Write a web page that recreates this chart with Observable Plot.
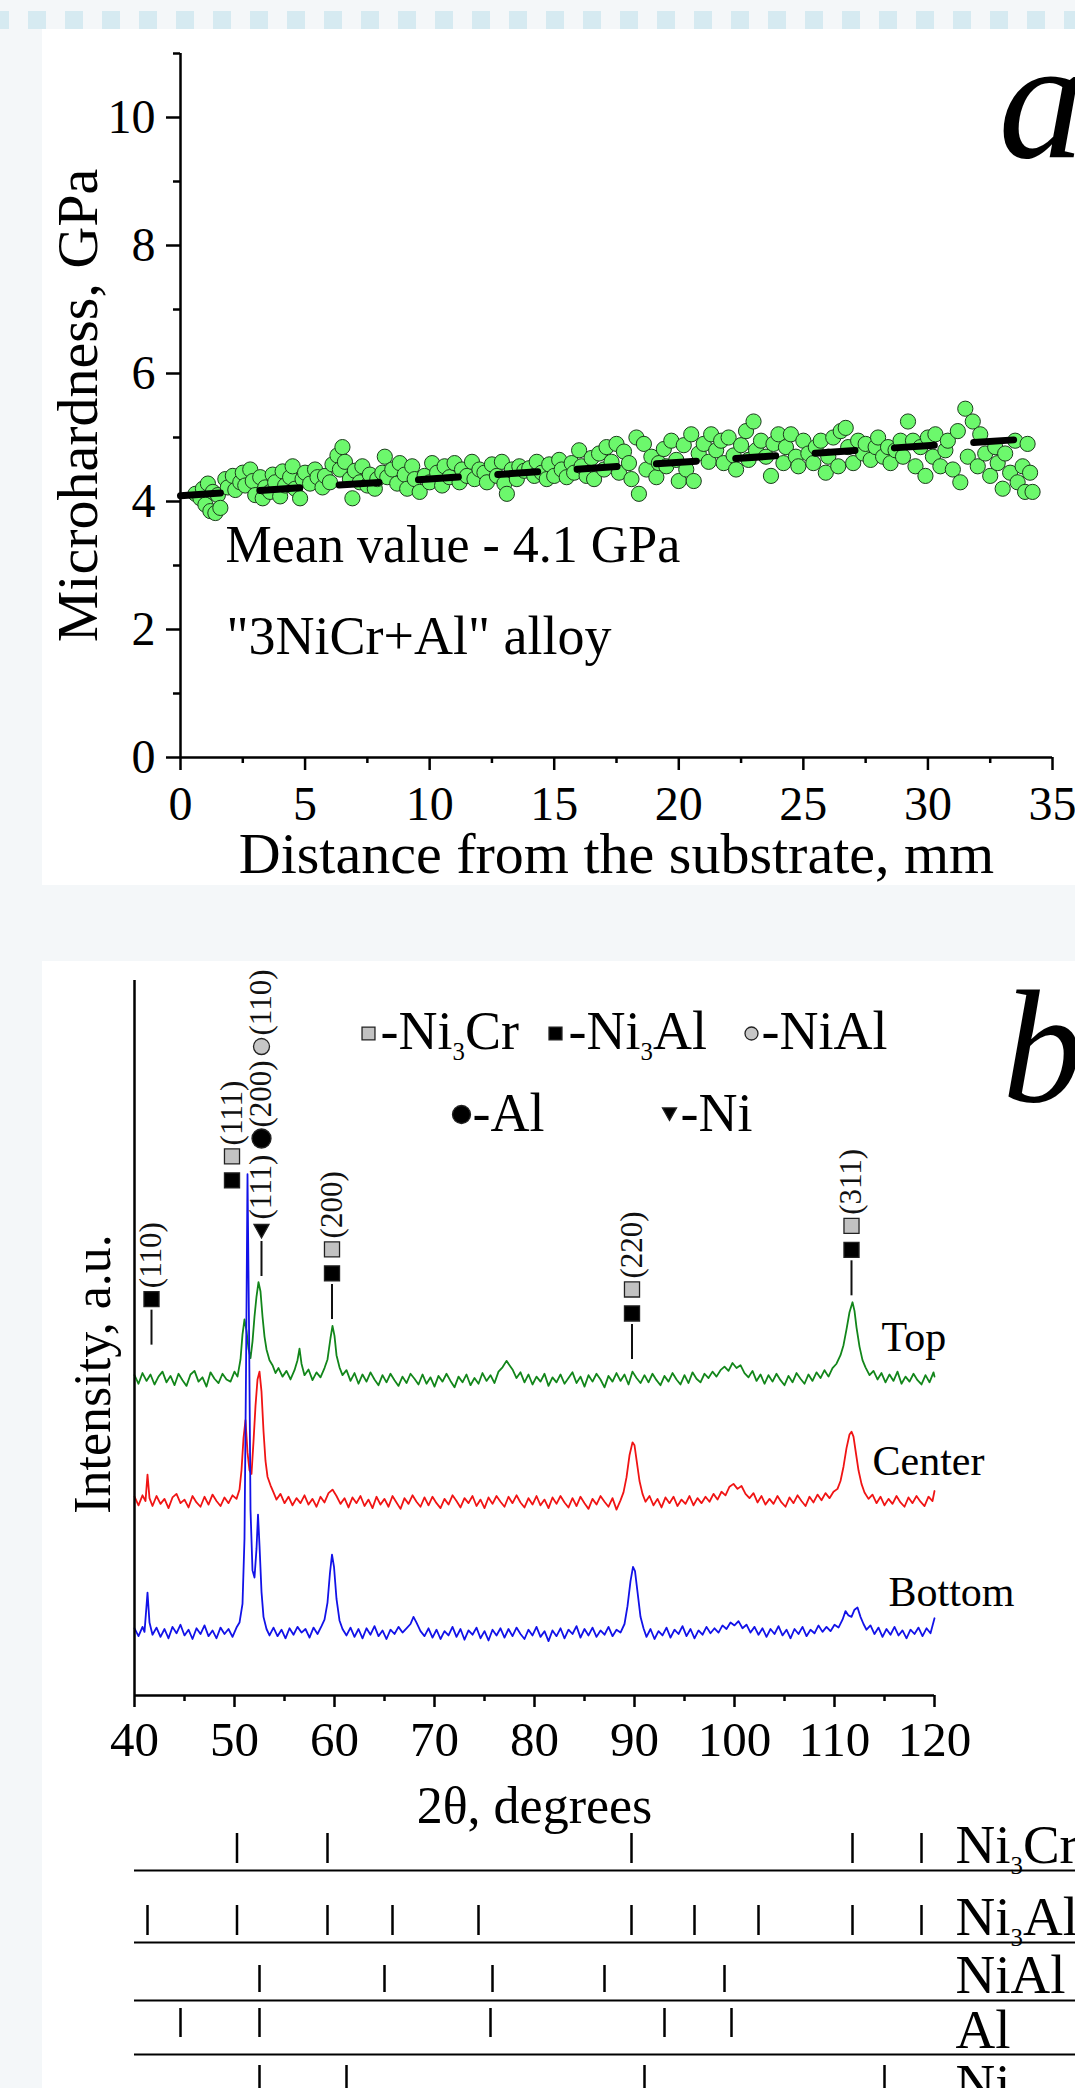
<!DOCTYPE html>
<html><head><meta charset="utf-8">
<script src="https://cdn.jsdelivr.net/npm/d3@7"></script>
<script src="https://cdn.jsdelivr.net/npm/@observablehq/plot@0.6"></script>
<style>
html,body{margin:0;padding:0;}
body{width:1075px;height:2088px;background:#f4f7f9;position:relative;overflow:hidden;font-family:"Liberation Serif",serif;}
#dash{position:absolute;left:0;top:11px;width:1075px;height:18px;background:repeating-linear-gradient(to right,#d6eaf1 0 9px,transparent 9px 28px,#d6eaf1 28px 37px);}
.panel{position:absolute;left:42px;width:1033px;background:#fff;overflow:hidden;}
#panelA{top:29px;height:856px;}
#panelB{top:961px;height:1127px;}
.panel svg{display:block;overflow:visible;}
</style></head>
<body>
<div id="dash"></div>
<div class="panel" id="panelA"></div>
<div class="panel" id="panelB"></div>
<script>
// ---------------- DATA ----------------
// (a) microhardness vs distance: [mm, GPa] pairs
const hardness = [
0.6,4.12, 0.8,4.05, 0.9,4.2, 1.0,3.95, 1.1,4.28, 1.2,3.85, 1.3,4.15, 1.4,3.82, 1.5,4.1, 1.6,3.9,
1.8,4.35, 1.9,4.22, 2.1,4.4, 2.2,4.18, 2.4,4.3, 2.5,4.45, 2.6,4.25, 2.8,4.5, 2.9,4.32, 3.0,4.1,
3.2,4.38, 3.3,4.05, 3.4,4.22, 3.6,4.15, 3.7,4.42, 3.8,4.3, 4.0,4.08, 4.1,4.47, 4.2,4.25, 4.4,4.38,
4.5,4.55, 4.6,4.2, 4.8,4.05, 4.9,4.35, 5.0,4.45, 5.2,4.28, 5.4,4.5, 5.5,4.38, 5.7,4.22, 5.8,4.4,
6.0,4.3, 6.1,4.58, 6.3,4.72, 6.4,4.5, 6.5,4.85, 6.6,4.62, 6.8,4.35, 6.9,4.05, 7.0,4.48, 7.2,4.3,
7.3,4.55, 7.5,4.25, 7.6,4.42, 7.8,4.2, 7.9,4.35, 8.1,4.45, 8.2,4.7, 8.3,4.38, 8.5,4.5, 8.7,4.28,
8.8,4.6, 9.0,4.42, 9.1,4.2, 9.3,4.55, 9.4,4.35, 9.6,4.15, 9.8,4.4, 10.0,4.3, 10.1,4.6, 10.3,4.45,
10.5,4.25, 10.6,4.55, 10.8,4.38, 11.0,4.6, 11.2,4.3, 11.3,4.5, 11.5,4.4, 11.7,4.62, 11.8,4.35, 12.0,4.5,
12.2,4.45, 12.3,4.3, 12.5,4.58, 12.7,4.4, 12.9,4.62, 13.0,4.28, 13.1,4.12, 13.3,4.5, 13.5,4.35, 13.6,4.55,
13.8,4.48, 14.0,4.52, 14.2,4.4, 14.3,4.62, 14.5,4.45, 14.7,4.35, 14.8,4.58, 15.0,4.4, 15.2,4.65, 15.3,4.5,
15.5,4.38, 15.7,4.6, 15.8,4.45, 16.0,4.8, 16.1,4.55, 16.3,4.4, 16.5,4.68, 16.6,4.35, 16.8,4.75, 17.0,4.5,
17.1,4.85, 17.3,4.62, 17.5,4.9, 17.6,4.45, 17.8,4.78, 18.0,4.6, 18.1,4.35, 18.3,5.0, 18.4,4.12, 18.6,4.9,
18.7,4.5, 18.9,4.7, 19.1,4.38, 19.2,4.6, 19.4,4.82, 19.5,4.55, 19.7,4.95, 19.9,4.65, 20.0,4.32, 20.2,4.88,
20.3,4.5, 20.5,5.05, 20.6,4.32, 20.8,4.75, 21.0,4.9, 21.2,4.62, 21.3,5.05, 21.5,4.8, 21.7,4.95, 21.8,4.6,
22.0,5.0, 22.2,4.72, 22.3,4.5, 22.5,4.88, 22.7,5.1, 22.8,4.65, 23.0,5.25, 23.1,4.8, 23.3,4.95, 23.5,4.7,
23.7,4.4, 23.8,4.9, 24.0,5.05, 24.2,4.6, 24.3,4.85, 24.5,5.05, 24.7,4.7, 24.8,4.55, 25.0,4.95, 25.2,4.75,
25.4,4.6, 25.5,4.85, 25.7,4.95, 25.9,4.45, 26.0,4.7, 26.2,5.0, 26.4,4.55, 26.5,5.1, 26.7,5.15, 26.8,4.85,
27.0,4.6, 27.2,4.95, 27.4,4.75, 27.5,4.9, 27.7,4.65, 27.9,4.85, 28.0,5.0, 28.2,4.7, 28.4,4.85, 28.5,4.6,
28.7,4.8, 28.9,4.95, 29.0,4.7, 29.2,5.25, 29.4,4.95, 29.5,4.55, 29.7,4.85, 29.9,4.4, 30.0,5.0, 30.2,4.7,
30.3,5.05, 30.5,4.55, 30.7,4.8, 30.8,4.95, 31.0,4.5, 31.2,5.1, 31.3,4.3, 31.5,5.45, 31.6,4.7, 31.8,5.25,
32.0,4.55, 32.1,5.05, 32.3,4.75, 32.5,4.4, 32.7,4.85, 32.8,4.6, 33.0,4.2, 33.1,4.75, 33.3,4.45, 33.5,4.95,
33.6,4.3, 33.8,4.55, 33.9,4.15, 34.0,4.9, 34.1,4.45, 34.2,4.15
];
// linear mean trend (dashed): [mm, GPa]
const meanLine = [[0, 4.09], [34.1, 4.98]];
const hardnessYTicks = [0, 2, 4, 6, 8, 10];
const hardnessYMinor = [1, 3, 5, 7, 9, 11];
const hardnessXTicks = [0, 5, 10, 15, 20, 25, 30, 35];
const hardnessXMinor = [2.5, 7.5, 12.5, 17.5, 22.5, 27.5, 32.5];

// (b) XRD patterns: [2theta, intensity a.u.] pairs
const xrdTop = [
40.0,44.8, 40.4,43.6, 40.8,45.1, 41.2,44.0, 41.6,44.9, 42.0,43.5, 42.4,44.6, 42.8,45.3, 43.2,43.8, 43.6,44.7,
44.0,43.4, 44.4,45.0, 44.8,44.1, 45.2,43.3, 45.6,44.9, 46.0,45.4, 46.4,43.9, 46.8,44.5, 47.2,43.2, 47.6,45.2,
48.0,44.3, 48.4,43.7, 48.8,45.0, 49.2,44.2, 49.6,43.9, 50.0,45.3, 50.3,44.6, 50.6,47.0, 50.8,50.5, 51.0,52.6,
51.2,51.0, 51.4,48.5, 51.6,47.2, 51.8,49.5, 52.0,53.0, 52.2,55.8, 52.4,57.8, 52.6,56.5, 52.8,53.0, 53.0,50.2,
53.2,48.4, 53.5,46.9, 53.8,46.2, 54.1,45.1, 54.4,45.8, 54.8,44.6, 55.2,45.4, 55.6,44.2, 56.0,45.5, 56.3,46.9,
56.5,48.5, 56.7,46.4, 57.0,44.8, 57.4,45.6, 57.8,44.1, 58.2,45.2, 58.6,44.5, 59.0,45.8, 59.3,47.0, 59.6,50.0,
59.8,51.7, 60.0,50.3, 60.2,47.6, 60.5,45.9, 60.8,44.8, 61.2,45.5, 61.6,44.0, 62.0,45.1, 62.4,43.6, 62.8,44.9,
63.2,43.9, 63.6,45.2, 64.0,44.2, 64.4,43.4, 64.8,44.8, 65.2,43.8, 65.6,45.0, 66.0,44.1, 66.4,43.3, 66.8,44.6,
67.2,43.7, 67.6,45.0, 68.0,44.3, 68.4,43.5, 68.8,44.9, 69.2,43.6, 69.6,44.5, 70.0,43.2, 70.4,44.7, 70.8,43.9,
71.2,45.0, 71.6,44.0, 72.0,43.1, 72.4,44.6, 72.8,43.8, 73.2,44.9, 73.6,43.4, 74.0,44.4, 74.4,43.6, 74.8,45.1,
75.2,44.0, 75.6,44.8, 76.0,43.7, 76.4,45.3, 76.8,45.9, 77.2,46.8, 77.5,46.2, 77.8,45.6, 78.2,44.4, 78.6,45.2,
79.0,43.8, 79.4,44.9, 79.8,43.5, 80.2,44.6, 80.6,43.9, 81.0,45.0, 81.4,43.3, 81.8,44.5, 82.2,43.8, 82.6,44.9,
83.0,43.6, 83.4,44.4, 83.8,45.2, 84.2,43.7, 84.6,44.6, 85.0,43.2, 85.4,44.8, 85.8,43.9, 86.2,45.0, 86.6,44.2,
87.0,43.1, 87.4,44.7, 87.8,43.9, 88.2,45.1, 88.6,44.0, 89.0,44.9, 89.4,43.5, 89.8,45.3, 90.2,44.4, 90.6,43.7,
91.0,44.8, 91.4,43.8, 91.8,45.0, 92.2,44.1, 92.6,43.4, 93.0,44.7, 93.4,43.9, 93.8,45.1, 94.2,44.2, 94.6,43.5,
95.0,44.8, 95.4,43.7, 95.8,45.2, 96.2,44.3, 96.6,43.8, 97.0,45.0, 97.4,44.4, 97.8,45.3, 98.2,44.6, 98.6,45.5,
99.0,46.0, 99.4,45.4, 99.8,46.5, 100.2,45.8, 100.6,46.2, 101.0,45.1, 101.4,44.5, 101.8,45.4, 102.2,44.0, 102.6,44.9,
103.0,43.6, 103.4,44.8, 103.8,43.9, 104.2,45.0, 104.6,44.1, 105.0,43.4, 105.4,44.7, 105.8,43.8, 106.2,45.1, 106.6,44.3,
107.0,43.6, 107.4,44.9, 107.8,44.0, 108.2,45.2, 108.6,44.4, 109.0,45.5, 109.4,44.6, 109.8,45.8, 110.2,46.4, 110.6,47.6,
110.9,49.0, 111.2,51.2, 111.5,53.6, 111.8,55.0, 112.0,53.8, 112.2,51.5, 112.5,48.8, 112.8,46.9, 113.1,45.9, 113.5,44.8,
113.9,45.4, 114.3,44.2, 114.7,45.1, 115.1,43.8, 115.5,44.9, 115.9,44.0, 116.3,45.3, 116.7,43.6, 117.1,44.6, 117.5,43.9,
117.9,45.0, 118.3,44.1, 118.7,43.5, 119.1,44.8, 119.5,43.8, 119.9,45.2, 120.0,44.6
];
const xrdCenter = [
40.0,27.8, 40.4,26.6, 40.8,28.0, 41.1,27.2, 41.3,30.9, 41.5,27.6, 41.8,26.5, 42.2,27.9, 42.6,26.8, 43.0,27.5,
43.4,26.2, 43.8,27.7, 44.2,28.2, 44.6,26.9, 45.0,27.4, 45.4,26.3, 45.8,27.9, 46.2,27.0, 46.6,26.4, 47.0,27.8,
47.4,26.7, 47.8,28.1, 48.2,27.2, 48.6,26.5, 49.0,27.7, 49.4,26.9, 49.8,28.0, 50.2,27.5, 50.5,28.8, 50.7,31.5,
50.9,36.0, 51.1,38.5, 51.3,34.0, 51.5,31.5, 51.7,31.0, 51.9,35.5, 52.1,40.5, 52.3,44.2, 52.5,45.3, 52.7,42.5,
52.9,37.0, 53.1,32.8, 53.3,30.6, 53.6,29.4, 53.9,28.4, 54.2,27.4, 54.6,28.2, 55.0,26.9, 55.4,27.8, 55.8,26.6,
56.2,27.6, 56.6,26.9, 57.0,28.0, 57.4,26.7, 57.8,27.5, 58.2,26.4, 58.6,27.8, 59.0,27.0, 59.4,28.3, 59.8,28.8,
60.2,27.9, 60.6,26.8, 61.0,27.6, 61.4,26.3, 61.8,27.7, 62.2,26.9, 62.6,27.9, 63.0,26.5, 63.4,27.4, 63.8,26.2,
64.2,27.8, 64.6,26.7, 65.0,27.5, 65.4,26.4, 65.8,27.9, 66.2,27.0, 66.6,26.1, 67.0,27.6, 67.4,26.8, 67.8,28.0,
68.2,27.1, 68.6,26.4, 69.0,27.7, 69.4,26.6, 69.8,27.8, 70.2,26.9, 70.6,26.2, 71.0,27.5, 71.4,26.7, 71.8,28.0,
72.2,27.2, 72.6,26.3, 73.0,27.6, 73.4,26.9, 73.8,27.9, 74.2,26.5, 74.6,27.4, 75.0,26.2, 75.4,27.7, 75.8,26.8,
76.2,27.9, 76.6,27.1, 77.0,26.4, 77.4,27.8, 77.8,26.9, 78.2,28.0, 78.6,27.0, 79.0,26.3, 79.4,27.6, 79.8,26.7,
80.2,27.9, 80.6,26.6, 81.0,27.4, 81.4,26.2, 81.8,27.7, 82.2,26.8, 82.6,27.9, 83.0,27.0, 83.4,26.3, 83.8,27.6,
84.2,26.5, 84.6,27.8, 85.0,26.9, 85.4,26.1, 85.8,27.5, 86.2,26.7, 86.6,27.9, 87.0,27.1, 87.4,26.4, 87.8,27.6,
88.2,26.0, 88.6,27.3, 88.9,28.4, 89.2,30.5, 89.5,33.6, 89.8,35.4, 90.0,35.0, 90.2,33.0, 90.5,30.0, 90.8,28.2,
91.1,27.1, 91.5,27.9, 91.9,26.6, 92.3,27.5, 92.7,26.3, 93.1,27.7, 93.5,26.9, 93.9,27.8, 94.3,26.5, 94.7,27.4,
95.1,26.8, 95.5,27.9, 95.9,26.6, 96.3,27.6, 96.7,26.9, 97.1,27.8, 97.5,27.1, 97.9,28.2, 98.3,27.4, 98.7,28.5,
99.1,28.0, 99.5,29.2, 99.9,29.6, 100.3,28.9, 100.7,29.3, 101.1,28.2, 101.5,27.6, 101.9,28.3, 102.3,27.0, 102.7,27.9,
103.1,26.7, 103.5,27.5, 103.9,26.8, 104.3,27.9, 104.7,27.0, 105.1,26.4, 105.5,27.7, 105.9,26.9, 106.3,28.0, 106.7,27.2,
107.1,26.5, 107.5,27.8, 107.9,27.0, 108.3,28.1, 108.7,27.3, 109.1,28.3, 109.5,27.6, 109.9,28.5, 110.3,28.9, 110.6,30.0,
110.9,32.0, 111.2,34.6, 111.5,36.5, 111.7,36.9, 111.9,36.2, 112.1,34.3, 112.4,31.5, 112.7,29.6, 113.0,28.4, 113.4,27.5,
113.8,28.1, 114.2,26.9, 114.6,27.8, 115.0,26.6, 115.4,27.5, 115.8,26.8, 116.2,27.9, 116.6,27.0, 117.0,26.4, 117.4,27.7,
117.8,26.9, 118.2,27.9, 118.6,27.1, 119.0,26.5, 119.4,27.8, 119.8,27.2, 120.0,28.6
];
const xrdBottom = [
40.0,9.4, 40.4,8.3, 40.8,9.6, 41.0,8.9, 41.2,12.5, 41.3,14.4, 41.5,10.2, 41.8,8.5, 42.2,9.5, 42.6,8.2,
43.0,9.3, 43.4,8.0, 43.8,9.6, 44.2,8.7, 44.6,9.9, 45.0,8.4, 45.4,9.2, 45.8,7.9, 46.2,9.4, 46.6,8.6,
47.0,9.8, 47.4,8.3, 47.8,9.1, 48.2,8.0, 48.6,9.5, 49.0,8.6, 49.4,9.3, 49.8,8.2, 50.2,9.5, 50.5,10.2,
50.8,12.8, 51.0,22.0, 51.15,45.0, 51.3,72.9, 51.45,52.0, 51.6,26.0, 51.8,17.5, 52.0,16.5, 52.2,20.5, 52.35,25.3,
52.5,21.0, 52.7,14.5, 52.9,11.0, 53.2,9.3, 53.5,8.4, 53.9,9.5, 54.3,8.3, 54.7,9.2, 55.1,8.0, 55.5,9.4,
55.9,8.5, 56.3,9.6, 56.7,8.8, 57.1,9.3, 57.5,8.1, 57.9,9.5, 58.3,8.6, 58.7,9.7, 59.0,10.6, 59.3,13.0,
59.55,17.2, 59.75,19.7, 59.95,18.0, 60.2,13.5, 60.5,10.5, 60.8,9.3, 61.2,8.4, 61.6,9.5, 62.0,8.2, 62.4,9.3,
62.8,8.0, 63.2,9.4, 63.6,8.5, 64.0,9.7, 64.4,8.3, 64.8,9.1, 65.2,7.9, 65.6,9.2, 66.0,8.6, 66.4,9.6,
66.8,8.8, 67.2,9.4, 67.6,10.0, 67.9,11.0, 68.2,10.2, 68.6,9.0, 69.0,8.3, 69.4,9.4, 69.8,8.1, 70.2,9.2,
70.6,7.9, 71.0,9.0, 71.4,8.4, 71.8,9.6, 72.2,8.2, 72.6,9.3, 73.0,7.8, 73.4,9.1, 73.8,8.5, 74.2,9.5,
74.6,8.0, 75.0,9.0, 75.4,7.7, 75.8,9.2, 76.2,8.4, 76.6,9.4, 77.0,8.1, 77.4,9.3, 77.8,8.3, 78.2,9.5,
78.6,8.6, 79.0,7.9, 79.4,9.2, 79.8,8.4, 80.2,9.6, 80.6,8.2, 81.0,9.0, 81.4,7.6, 81.8,9.1, 82.2,8.3,
82.6,9.4, 83.0,8.0, 83.4,9.2, 83.8,8.6, 84.2,9.7, 84.6,8.1, 85.0,9.3, 85.4,8.4, 85.8,9.5, 86.2,8.2,
86.6,9.1, 87.0,8.5, 87.4,9.6, 87.8,8.3, 88.2,9.2, 88.6,8.8, 89.0,10.0, 89.3,12.5, 89.6,16.0, 89.85,18.0,
90.05,17.4, 90.3,14.5, 90.6,11.0, 90.9,9.4, 91.2,8.2, 91.6,9.3, 92.0,7.9, 92.4,9.0, 92.8,8.4, 93.2,9.5,
93.6,8.1, 94.0,9.2, 94.4,8.6, 94.8,9.7, 95.2,8.3, 95.6,9.3, 96.0,8.0, 96.4,9.1, 96.8,8.5, 97.2,9.6,
97.6,8.7, 98.0,9.4, 98.4,8.8, 98.8,9.8, 99.2,9.3, 99.6,10.2, 100.0,9.8, 100.4,10.4, 100.8,9.4, 101.2,9.9,
101.6,8.8, 102.0,9.6, 102.4,8.5, 102.8,9.4, 103.2,8.2, 103.6,9.3, 104.0,8.6, 104.4,9.7, 104.8,8.4, 105.2,9.2,
105.6,8.0, 106.0,9.3, 106.4,8.6, 106.8,9.6, 107.2,8.3, 107.6,9.2, 108.0,8.7, 108.4,9.8, 108.8,8.9, 109.2,9.6,
109.6,9.0, 110.0,9.9, 110.4,9.5, 110.8,10.6, 111.1,11.8, 111.4,11.2, 111.7,11.0, 112.0,12.0, 112.3,12.3, 112.6,11.0,
112.9,10.0, 113.2,9.2, 113.6,9.8, 114.0,8.6, 114.4,9.5, 114.8,8.2, 115.2,9.3, 115.6,8.5, 116.0,9.6, 116.4,8.4,
116.8,9.1, 117.2,8.0, 117.6,9.2, 118.0,8.6, 118.4,9.5, 118.8,8.3, 119.2,9.4, 119.6,8.7, 120.0,10.8
];
const xrdXTicks = [40, 50, 60, 70, 80, 90, 100, 110, 120];
const xrdXMinor = [45, 55, 65, 75, 85, 95, 105, 115];
const seriesNames = ["Top", "Center", "Bottom"];

// peak annotations: angle, intensity where the marker stack starts, stack from bottom up
const peakNotes = [
  {angle: 41.7, base: 49.0, stem: true, stack: ["Ni3Al", "(110)"]},
  {angle: 49.75, base: 70.5, stem: false, stack: ["Ni3Al", "Ni3Cr", "(111)"]},
  {angle: 52.7, base: 58.6, stem: true, stack: ["Ni", "(111)", "Al", "(200)", "NiAl", "(110)"]},
  {angle: 59.75, base: 52.6, stem: true, stack: ["Ni3Al", "Ni3Cr", "(200)"]},
  {angle: 89.75, base: 47.0, stem: true, stack: ["Ni3Al", "Ni3Cr", "(220)"]},
  {angle: 111.7, base: 55.9, stem: true, stack: ["Ni3Al", "Ni3Cr", "(311)"]}
];
const legendPhases = ["Ni3Cr", "Ni3Al", "NiAl", "Al", "Ni"];
const legendLabels = ["-Ni_3Cr", "-Ni_3Al", "-NiAl", "-Al", "-Ni"];

// reference stick patterns (2theta)
const rowNames = ["Ni_3Cr", "Ni_3Al", "NiAl", "Al", "Ni"];
const sticksNi3Cr = [50.25, 59.3, 89.7, 111.8, 118.7];
const sticksNi3Al = [41.3, 50.25, 59.3, 65.8, 74.4, 89.7, 96.0, 102.4, 111.8, 118.7];
const sticksNiAl = [52.5, 65.0, 75.8, 87.0, 99.0];
const sticksAl = [44.6, 52.5, 75.6, 93.0, 99.7];
const sticksNi = [52.5, 61.2, 91.0, 115.0];

// ---------------- HELPERS ----------------
const FONT = '"Liberation Serif","Times New Roman",serif';
const pairs = (flat) => { const out = []; for (let i = 0; i < flat.length; i += 2) out.push([flat[i], flat[i + 1]]); return out; };
const triDown = {draw(ctx, size) { const a = Math.sqrt(size) * 0.55; ctx.moveTo(-a, -a * 0.8); ctx.lineTo(a, -a * 0.8); ctx.lineTo(0, a * 1.0); ctx.closePath(); }};
const PHASE = {
  Ni3Cr: {symbol: "square", fill: "#c2c2c2", r: 8.5, lr: 7.3},
  Ni3Al: {symbol: "square", fill: "#000", r: 8.5, lr: 7.3},
  NiAl: {symbol: "circle", fill: "#c6c6c6", r: 8, lr: 6.5},
  Al: {symbol: "circle", fill: "#000", r: 9.5, lr: 9},
  Ni: {symbol: triDown, fill: "#000", r: 7.7, lr: 7.2}
};
function subscripts(svg) {
  svg.querySelectorAll("text").forEach(t => {
    const s = t.textContent;
    if (!s.includes("_")) return;
    const fs = parseFloat(t.getAttribute("font-size") || getComputedStyle(t).fontSize) || 40;
    const m = s.match(/^(.*?)_(\d)(.*)$/);
    while (t.firstChild) t.removeChild(t.firstChild);
    const ns = "http://www.w3.org/2000/svg";
    const a = document.createElementNS(ns, "tspan"); a.textContent = m[1]; t.appendChild(a);
    const b = document.createElementNS(ns, "tspan"); b.textContent = m[2];
    b.setAttribute("font-size", fs * 0.62); b.setAttribute("dy", fs * 0.28); t.appendChild(b);
    const c = document.createElementNS(ns, "tspan"); c.textContent = m[3]; c.setAttribute("dy", -fs * 0.28); t.appendChild(c);
  });
}

// ---------------- PANEL A ----------------
const hardnessPts = pairs(hardness);
const pa = Plot.plot({
  width: 1033, height: 856, marginLeft: 138, marginRight: 23, marginTop: 24, marginBottom: 128,
  style: {fontFamily: FONT, background: "white", color: "black", overflow: "visible"},
  x: {domain: [0, 35], axis: null}, y: {domain: [0, 11], axis: null},
  marks: [
    Plot.dot(hardnessPts, {x: d => d[0], y: d => d[1], r: 7.6, fill: "#6cf86c", fillOpacity: 1, stroke: "#1d3b1d", strokeWidth: 1}),
    Plot.line(meanLine, {x: d => d[0], y: d => d[1], stroke: "black", strokeWidth: 7, strokeDasharray: "40,39.5"}),
    Plot.ruleX([0], {strokeWidth: 2.5}),
    Plot.ruleY([0], {strokeWidth: 2.5}),
    Plot.axisY(hardnessYTicks, {tickSize: 14, tickPadding: 11, strokeWidth: 2.5, fontSize: 48, fontFamily: FONT, tickFormat: d => String(d), label: null}),
    Plot.axisY(hardnessYMinor, {tickSize: 7, strokeWidth: 2.5, tickFormat: () => "", label: null}),
    Plot.axisX(hardnessXTicks, {tickSize: 13, tickPadding: 15, strokeWidth: 2.5, fontSize: 48, fontFamily: FONT, tickFormat: d => String(d), label: null}),
    Plot.axisX(hardnessXMinor, {tickSize: 6, strokeWidth: 2.5, tickFormat: () => "", label: null}),
    Plot.text(["Microhardness, GPa"], {frameAnchor: "left", dx: -84, rotate: -90, textAnchor: "middle", lineAnchor: "bottom", fontSize: 58, fontFamily: FONT, fill: "black"}),
    Plot.text(["Distance from the substrate, mm"], {frameAnchor: "bottom", dy: 115, textAnchor: "middle", lineAnchor: "bottom", fontSize: 58, fontFamily: FONT, fill: "black"}),
    Plot.text(["Mean value - 4.1 GPa"], {frameAnchor: "top-left", dx: 45, dy: 508, textAnchor: "start", lineAnchor: "bottom", fontSize: 52, fontFamily: FONT, fill: "black"}),
    Plot.text(['"3NiCr+Al" alloy'], {frameAnchor: "top-left", dx: 46, dy: 600, textAnchor: "start", lineAnchor: "bottom", fontSize: 54, fontFamily: FONT, fill: "black"}),
    Plot.text(["a"], {frameAnchor: "top-left", dx: 818, dy: 103, textAnchor: "start", lineAnchor: "bottom", fontSize: 172, fontStyle: "italic", fontFamily: FONT, fill: "black"})
  ]
});
document.getElementById("panelA").appendChild(pa);

// ---------------- PANEL B ----------------
const B_H = 867, B_MT = 19, B_MB = 133;
const k = (B_H - B_MT - B_MB) / 100; // px per intensity unit
const annSym = [], annTxt = [], annStem = [];
for (const p of peakNotes) {
  let c = 0, prev = null;
  if (p.stem) { annStem.push(p); c = 35; }
  for (const item of p.stack) {
    if (item.startsWith("(")) { c += 11; annTxt.push({angle: p.angle, y: p.base + c / k, label: item}); c += 64; prev = "t"; }
    else { c += prev === "t" ? 17 : prev === "s" ? 24 : 11; annSym.push({angle: p.angle, y: p.base + c / k, phase: item}); prev = "s"; }
  }
}
const legendPos = {Ni3Cr: [234, 53, 246, 68], Ni3Al: [421, 53, 434, 68], NiAl: [617, 53, 627, 68], Al: [327, 134, 338, 150], Ni: [535, 133, 546, 150]};
const legendMarks = legendPhases.flatMap((ph, i) => {
  const [sx, sy, tx, ty] = legendPos[ph];
  const st = PHASE[ph];
  return [
    Plot.dot([0], {frameAnchor: "top-left", dx: sx, dy: sy, symbol: st.symbol, r: st.lr, fill: st.fill, stroke: "#222", strokeWidth: 1.3}),
    Plot.text([legendLabels[i]], {frameAnchor: "top-left", dx: tx, dy: ty, textAnchor: "start", lineAnchor: "bottom", fontSize: 54, fontFamily: FONT, fill: "black"})
  ];
});
const seriesLabelPos = [[747, 370], [738, 494], [754, 625]];
const pb = Plot.plot({
  width: 1033, height: B_H, marginLeft: 92, marginRight: 141, marginTop: B_MT, marginBottom: B_MB,
  style: {fontFamily: FONT, background: "white", color: "black", overflow: "visible"},
  x: {domain: [40, 120], axis: null}, y: {domain: [0, 100], axis: null},
  marks: [
    Plot.line(pairs(xrdTop), {x: d => d[0], y: d => d[1], stroke: "#12861a", strokeWidth: 1.8}),
    Plot.line(pairs(xrdCenter), {x: d => d[0], y: d => d[1], stroke: "#f01414", strokeWidth: 1.8}),
    Plot.line(pairs(xrdBottom), {x: d => d[0], y: d => d[1], stroke: "#1212e8", strokeWidth: 1.8}),
    Plot.ruleX([40], {strokeWidth: 2.5}),
    Plot.ruleY([0], {strokeWidth: 2.5}),
    Plot.axisX(xrdXTicks, {tickSize: 12, tickPadding: 14, strokeWidth: 2.5, fontSize: 49, fontFamily: FONT, tickFormat: d => String(d), label: null}),
    Plot.axisX(xrdXMinor, {tickSize: 6, strokeWidth: 2.5, tickFormat: () => "", label: null}),
    Plot.text(["Intensity, a.u."], {frameAnchor: "left", dx: -25, dy: 36, rotate: -90, textAnchor: "middle", lineAnchor: "bottom", fontSize: 52, fontFamily: FONT, fill: "black"}),
    Plot.text(["2θ, degrees"], {frameAnchor: "bottom", dy: 127, textAnchor: "middle", lineAnchor: "bottom", fontSize: 52, fontFamily: FONT, fill: "black"}),
    ...seriesNames.map((s, i) => Plot.text([s], {frameAnchor: "top-left", dx: seriesLabelPos[i][0], dy: seriesLabelPos[i][1], textAnchor: "start", lineAnchor: "bottom", fontSize: 42, fontFamily: FONT, fill: "black"})),
    Plot.ruleX(annStem, {x: "angle", y1: "base", y2: d => d.base + 35 / k, strokeWidth: 2, stroke: "#111"}),
    ...Object.keys(PHASE).map(ph => Plot.dot(annSym.filter(d => d.phase === ph), {x: "angle", y: "y", symbol: PHASE[ph].symbol, r: PHASE[ph].r, fill: PHASE[ph].fill, stroke: "#222", strokeWidth: 1.3})),
    Plot.text(annTxt, {x: "angle", y: "y", text: "label", rotate: -90, textAnchor: "start", lineAnchor: "middle", fontSize: 31, fontFamily: FONT, fill: "#111"}),
    ...legendMarks,
    Plot.text(["b"], {frameAnchor: "top-left", dx: 868, dy: 120, textAnchor: "start", lineAnchor: "bottom", fontSize: 160, fontStyle: "italic", fontFamily: FONT, fill: "black"})
  ]
});
subscripts(pb);
document.getElementById("panelB").appendChild(pb);

// ---------------- STICK PATTERN ROWS ----------------
const rowSticks = [sticksNi3Cr, sticksNi3Al, sticksNiAl, sticksAl, sticksNi];
const rowLayout = [
  {h: 44, mb: 2, it: 5, ib: 7, line: true, label: ["bottom-left", -8]},
  {h: 72, mb: 2, it: 33, ib: 7, line: true, label: ["bottom-left", -8]},
  {h: 58, mb: 2, it: 21, ib: 8, line: true, label: ["bottom-left", -8]},
  {h: 54, mb: 2, it: 6, ib: 17, line: true, label: ["bottom-left", -7]},
  {h: 40, mb: 0, it: 9, ib: 0, line: false, label: ["top-left", 45]}
];
rowNames.forEach((name, i) => {
  const L = rowLayout[i];
  const svg = Plot.plot({
    width: 1033, height: L.h, marginLeft: 92, marginRight: 0, marginTop: 0, marginBottom: L.mb,
    style: {fontFamily: FONT, background: "white", color: "black", overflow: "visible"},
    x: {domain: [40, 120], range: [92, 892], axis: null}, y: {domain: [0, 1], axis: null},
    marks: [
      Plot.tickX(rowSticks[i], {x: d => d, insetTop: L.it, insetBottom: L.ib, strokeWidth: 2.5, stroke: "black"}),
      ...(L.line ? [Plot.ruleY([0], {strokeWidth: 2.2, stroke: "black"})] : []),
      Plot.text([name], {frameAnchor: L.label[0], dx: 821, dy: L.label[1], textAnchor: "start", lineAnchor: "bottom", fontSize: 55, fontFamily: FONT, fill: "black"})
    ]
  });
  subscripts(svg);
  document.getElementById("panelB").appendChild(svg);
});
</script>
</body></html>
